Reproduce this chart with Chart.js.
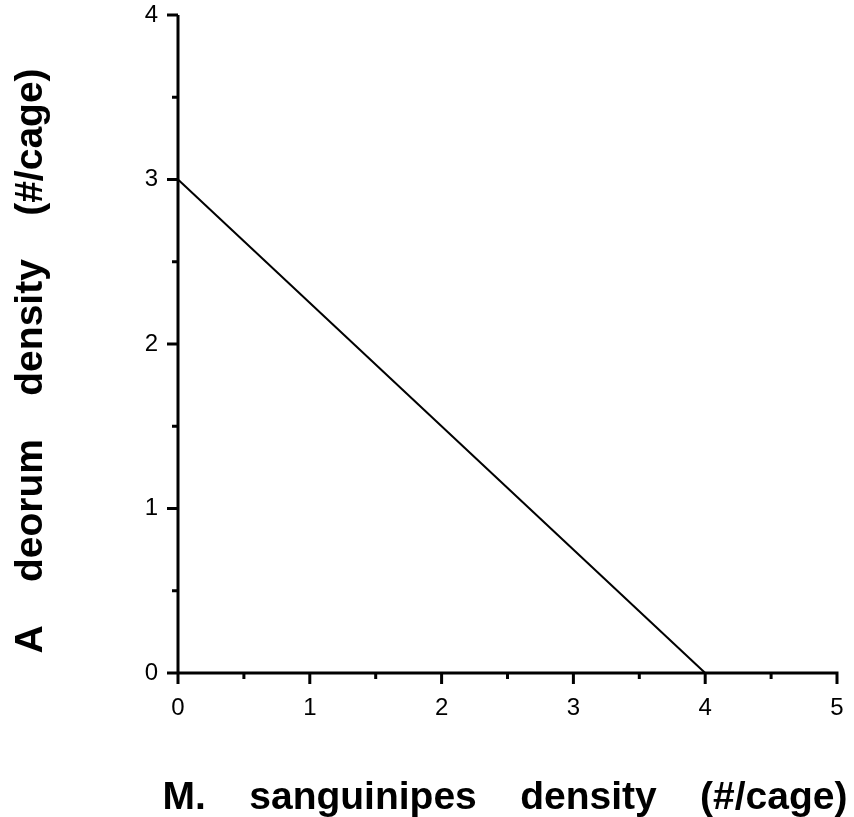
<!DOCTYPE html>
<html>
<head>
<meta charset="utf-8">
<script src="https://cdn.jsdelivr.net/npm/chart.js@4/dist/chart.umd.min.js"></script>
<style>
  html, body { margin: 0; padding: 0; background: #fff; }
  #wrap { width: 854px; height: 817px; }
</style>
</head>
<body>
<div id="wrap"><canvas id="dataChart"></canvas></div>
<script>
// isocline data
const lineX = [0, 4];
const lineY = [3, 0];

const xRange = [0, 5];
const yRange = [0, 4];

const xTitle = "M.    sanguinipes    density    (#/cage)";
const yTitle = "A    deorum    density    (#/cage)";

const FONT = "'Liberation Sans', Arial, sans-serif";

const axesPlugin = {
    id: "axesPlugin",
    afterDraw(chart){
        const ctx = chart.ctx;
        const xs = chart.scales.x;
        const ys = chart.scales.y;
        const left = xs.getPixelForValue(xRange[0]);
        const right = xs.getPixelForValue(xRange[1]);
        const top = ys.getPixelForValue(yRange[1]);
        const bottom = ys.getPixelForValue(yRange[0]);
        ctx.save();
        ctx.strokeStyle = "#000";
        ctx.lineWidth = 3;
        ctx.lineCap = "butt";
        ctx.beginPath();
        ctx.moveTo(left, top);
        ctx.lineTo(left, bottom + 1.5);
        ctx.moveTo(left - 1.5, bottom);
        ctx.lineTo(right + 1.5, bottom);
        // x ticks (major + minor)
        for(let v = xRange[0]; v <= xRange[1]; v += 0.5){
            let px = xs.getPixelForValue(v);
            let len = (v % 1 === 0) ? 11 : 6;
            ctx.moveTo(px, bottom);
            ctx.lineTo(px, bottom + len);
        }
        // y ticks
        for(let v = yRange[0]; v <= yRange[1]; v += 0.5){
            let py = ys.getPixelForValue(v);
            let len = (v % 1 === 0) ? 11 : 6;
            ctx.moveTo(left, py);
            ctx.lineTo(left - len, py);
        }
        ctx.stroke();

        // axis titles
        ctx.fillStyle = "#000";
        ctx.font = "bold 39px " + FONT;
        ctx.textAlign = "center";
        ctx.textBaseline = "alphabetic";
        ctx.fillText(xTitle, 505, 809);
        ctx.translate(42, 361);
        ctx.rotate(-Math.PI / 2);
        ctx.fillText(yTitle, 0, 0);
        ctx.restore();
    }
};

let ctx = document.getElementById("dataChart").getContext("2d");
let chart = new Chart(ctx, {
    type: "scatter",
    data: {
        datasets: [{
            label: "isocline",
            data: lineX.map((x, i) => ({x: x, y: lineY[i]})),
            showLine: true,
            borderColor: "#000",
            borderWidth: 2,
            pointRadius: 0,
            fill: false,
            clip: false
        }]
    },
    options: {
        responsive: true,
        maintainAspectRatio: false,
        animation: false,
        layout: {
            padding: {left: 0, top: 15, right: 17, bottom: 0}
        },
        plugins: {
            legend: {display: false},
            tooltip: {enabled: false}
        },
        scales: {
            x: {
                type: "linear",
                min: xRange[0],
                max: xRange[1],
                grid: {display: false, drawTicks: false},
                border: {display: false},
                ticks: {
                    stepSize: 1,
                    color: "#000",
                    padding: 21,
                    font: {size: 24, family: FONT}
                },
                afterFit(scale){
                    scale.height = 817 - 673;
                    scale.paddingLeft = 0;
                    scale.paddingRight = 0;
                }
            },
            y: {
                type: "linear",
                min: yRange[0],
                max: yRange[1],
                grid: {display: false, drawTicks: false},
                border: {display: false},
                ticks: {
                    stepSize: 1,
                    color: "#000",
                    padding: 20,
                    font: {size: 24, family: FONT}
                },
                afterFit(scale){
                    scale.width = 178;
                    scale.paddingTop = 0;
                    scale.paddingBottom = 0;
                }
            }
        }
    },
    plugins: [axesPlugin]
});
</script>
</body>
</html>
